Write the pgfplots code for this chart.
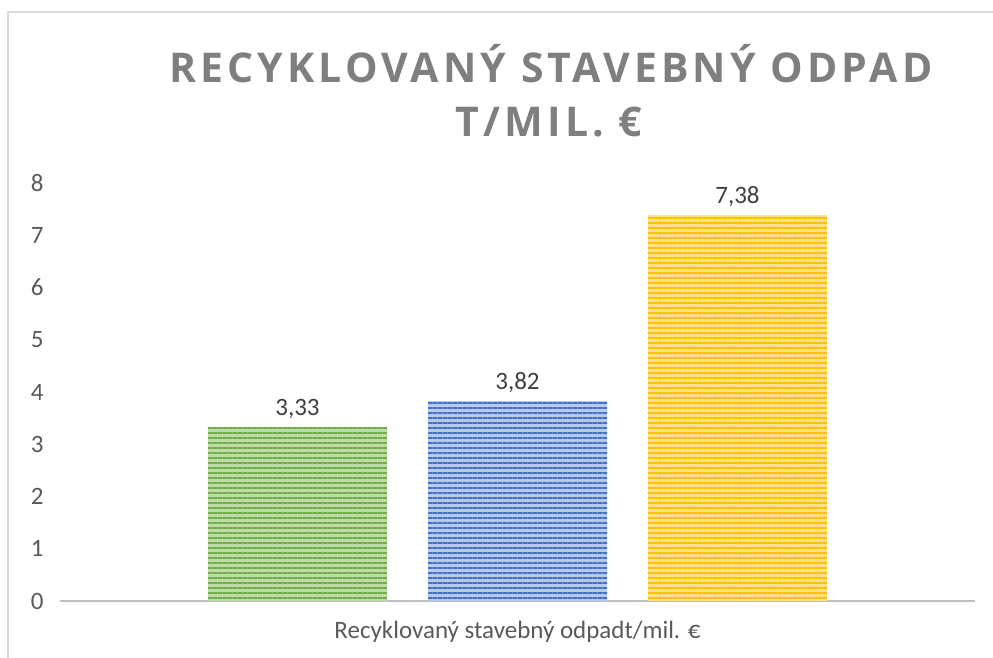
\documentclass[border=0pt]{standalone}
\usepackage{pgfplots}
\pgfplotsset{compat=1.18}
\usepackage{fontspec}
\setmainfont{Carlito}
\newfontfamily\titlefont[LetterSpace=10]{Open Sans}
\usetikzlibrary{patterns.meta}

\definecolor{grn}{HTML}{70AD47}
\definecolor{grnl}{HTML}{BEDCA8}
\definecolor{blu}{HTML}{4472C4}
\definecolor{blul}{HTML}{B8CAEB}
\definecolor{gld}{HTML}{FFC000}
\definecolor{gldl}{HTML}{FFE08A}
\definecolor{ttl}{HTML}{7F7F7F}
\definecolor{tck}{HTML}{595959}
\definecolor{lbl}{HTML}{404040}
\definecolor{brd}{HTML}{D9D9D9}
\definecolor{axl}{HTML}{BFBFBF}

\begin{document}
\begin{tikzpicture}[x=1pt,y=1pt]
\useasboundingbox (0,0) rectangle (993,658);
\draw[brd, line width=2pt] (8,0) -- (8,646) -- (993,646);

\node[ttl, font=\titlefont\fontsize{41}{48}\selectfont\bfseries] at (551,594) {RECYKLOVANÝ STAVEBNÝ ODPAD};
\node[ttl, font=\titlefont\fontsize{41}{48}\selectfont\bfseries] at (549,536) {T/MIL. €};

\begin{axis}[
    at={(60pt,57pt)}, anchor=south west,
    scale only axis,
    width=915pt, height=418pt,
    xmin=-0.0795, xmax=4.0795,
    ymin=0, ymax=8,
    ybar, bar width=179pt, bar shift=0pt,
    axis lines*=left,
    axis line style={-},
    y axis line style={draw=none},
    x axis line style={axl, line width=2pt},
    xtick={2},
    xticklabels={Recyklovaný stavebný odpadt/mil. €},
    ytick={0,1,...,8},
    major tick length=0pt,
    tick style={draw=none},
    /pgf/number format/assume math mode=true,
    ticklabel style={tck, font=\fontsize{25}{30}\selectfont},
    yticklabel style={xshift=-13pt},
    xticklabel style={yshift=-17pt},
    nodes near coords,
    nodes near coords style={lbl, font=\fontsize{25}{30}\selectfont, yshift=5pt,
        /pgf/number format/.cd, fixed, fixed zerofill, precision=2, use comma, assume math mode=true},
]
\addplot[draw=none, fill=grnl, postaction={pattern={Lines[angle=0,distance=5pt,line width=2.5pt]}, pattern color=grn}] coordinates {(1,3.33)};
\addplot[draw=none, fill=blul, postaction={pattern={Lines[angle=0,distance=5pt,line width=2.5pt]}, pattern color=blu}] coordinates {(2,3.82)};
\addplot[draw=none, fill=gldl, postaction={pattern={Lines[angle=0,distance=5pt,line width=2.5pt]}, pattern color=gld}] coordinates {(3,7.38)};
\end{axis}
\end{tikzpicture}
\end{document}
